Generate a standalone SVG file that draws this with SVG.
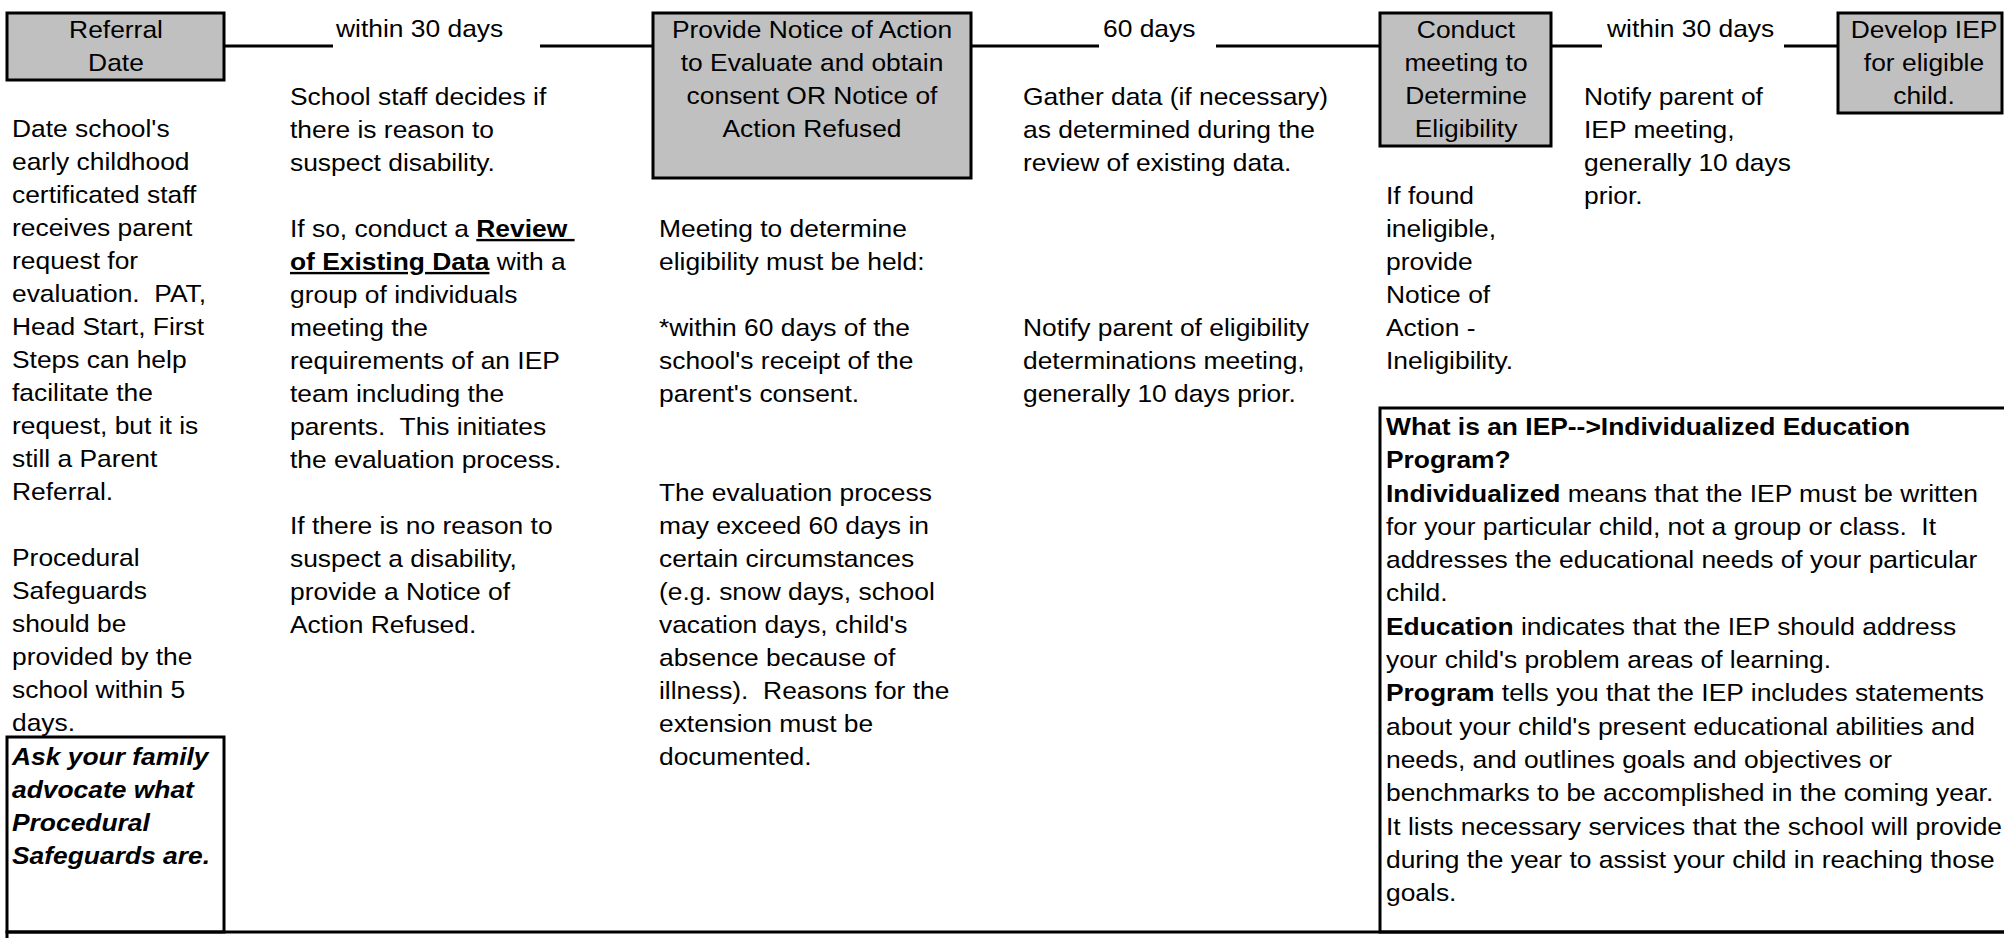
<svg xmlns="http://www.w3.org/2000/svg" width="2004" height="938" viewBox="0 0 2004 938">
<style>
  text { font-family: "Liberation Sans", Arial, sans-serif; font-size: 24px; fill: #000; white-space: pre; }
  .c { text-anchor: middle; }
  .b { font-weight: bold; }
  .bi { font-weight: bold; font-style: italic; }
  .u { text-decoration: underline; }
  .box { fill: #c0c0c0; stroke: #000; stroke-width: 3; }
  .frame { fill: none; stroke: #000; stroke-width: 3; }
  .conn line { stroke: #000; stroke-width: 3; }
</style>
<rect width="2004" height="938" fill="#fff"/>

<g id="connectors" class="conn">
  <line x1="224" y1="46" x2="333" y2="46"/>
  <line x1="540" y1="46" x2="653" y2="46"/>
  <line x1="971" y1="46" x2="1099" y2="46"/>
  <line x1="1216" y1="46" x2="1380" y2="46"/>
  <line x1="1551" y1="46" x2="1602" y2="46"/>
  <line x1="1784" y1="46" x2="1838" y2="46"/>
  <text transform="matrix(1.1 0 0 1 336 37)">within 30 days</text>
  <text transform="matrix(1.1 0 0 1 1103 37)">60 days</text>
  <text transform="matrix(1.1 0 0 1 1607 37)">within 30 days</text>
</g>

<g id="referral">
  <rect class="box" x="7" y="13" width="217" height="67"/>
  <text class="c" transform="matrix(1.1 0 0 1 116 38)"><tspan x="0" y="0">Referral</tspan><tspan x="0" y="33">Date</tspan></text>
</g>

<g id="provide-notice">
  <rect class="box" x="653" y="13" width="318" height="165"/>
  <text class="c" transform="matrix(1.1 0 0 1 812 38)"><tspan x="0" y="0">Provide Notice of Action</tspan><tspan x="0" y="33">to Evaluate and obtain</tspan><tspan x="0" y="66">consent OR Notice of</tspan><tspan x="0" y="99">Action Refused</tspan></text>
</g>

<g id="conduct-meeting">
  <rect class="box" x="1380" y="13" width="171" height="133"/>
  <text class="c" transform="matrix(1.1 0 0 1 1466 38)"><tspan x="0" y="0">Conduct</tspan><tspan x="0" y="33">meeting to</tspan><tspan x="0" y="66">Determine</tspan><tspan x="0" y="99">Eligibility</tspan></text>
</g>

<g id="develop-iep">
  <rect class="box" x="1838" y="13" width="164" height="100"/>
  <text class="c" transform="matrix(1.1 0 0 1 1924 38)"><tspan x="0" y="0">Develop IEP</tspan><tspan x="0" y="33">for eligible</tspan><tspan x="0" y="66">child.</tspan></text>
</g>

<g id="note-referral">
  <text transform="matrix(1.1 0 0 1 12 137)"><tspan x="0" y="0">Date school's</tspan><tspan x="0" y="33">early childhood</tspan><tspan x="0" y="66">certificated staff</tspan><tspan x="0" y="99">receives parent</tspan><tspan x="0" y="132">request for</tspan><tspan x="0" y="165">evaluation.  PAT,</tspan><tspan x="0" y="198">Head Start, First</tspan><tspan x="0" y="231">Steps can help</tspan><tspan x="0" y="264">facilitate the</tspan><tspan x="0" y="297">request, but it is</tspan><tspan x="0" y="330">still a Parent</tspan><tspan x="0" y="363">Referral.</tspan><tspan x="0" y="429">Procedural</tspan><tspan x="0" y="462">Safeguards</tspan><tspan x="0" y="495">should be</tspan><tspan x="0" y="528">provided by the</tspan><tspan x="0" y="561">school within 5</tspan><tspan x="0" y="594">days.</tspan></text>
</g>

<g id="note-safeguards">
  <rect class="frame" x="7" y="737" width="217" height="195"/>
  <text class="bi" transform="matrix(1.1 0 0 1 12 765)"><tspan x="0" y="0">Ask your family</tspan><tspan x="0" y="33">advocate what</tspan><tspan x="0" y="66">Procedural</tspan><tspan x="0" y="99">Safeguards are.</tspan></text>
</g>

<g id="note-review">
  <text transform="matrix(1.1 0 0 1 290 105)"><tspan x="0" y="0">School staff decides if</tspan><tspan x="0" y="33">there is reason to</tspan><tspan x="0" y="66">suspect disability.</tspan><tspan x="0" y="132">If so, conduct a </tspan><tspan class="b u">Review </tspan><tspan x="0" y="165" class="b u">of Existing Data</tspan><tspan> with a</tspan><tspan x="0" y="198">group of individuals</tspan><tspan x="0" y="231">meeting the</tspan><tspan x="0" y="264">requirements of an IEP</tspan><tspan x="0" y="297">team including the</tspan><tspan x="0" y="330">parents.  This initiates</tspan><tspan x="0" y="363">the evaluation process.</tspan><tspan x="0" y="429">If there is no reason to</tspan><tspan x="0" y="462">suspect a disability,</tspan><tspan x="0" y="495">provide a Notice of</tspan><tspan x="0" y="528">Action Refused.</tspan></text>
</g>

<g id="note-meeting">
  <text transform="matrix(1.1 0 0 1 659 237)"><tspan x="0" y="0">Meeting to determine</tspan><tspan x="0" y="33">eligibility must be held:</tspan><tspan x="0" y="99">*within 60 days of the</tspan><tspan x="0" y="132">school's receipt of the</tspan><tspan x="0" y="165">parent's consent.</tspan><tspan x="0" y="264">The evaluation process</tspan><tspan x="0" y="297">may exceed 60 days in</tspan><tspan x="0" y="330">certain circumstances</tspan><tspan x="0" y="363">(e.g. snow days, school</tspan><tspan x="0" y="396">vacation days, child's</tspan><tspan x="0" y="429">absence because of</tspan><tspan x="0" y="462">illness).  Reasons for the</tspan><tspan x="0" y="495">extension must be</tspan><tspan x="0" y="528">documented.</tspan></text>
</g>

<g id="note-gather">
  <text transform="matrix(1.1 0 0 1 1023 105)"><tspan x="0" y="0">Gather data (if necessary)</tspan><tspan x="0" y="33">as determined during the</tspan><tspan x="0" y="66">review of existing data.</tspan><tspan x="0" y="231">Notify parent of eligibility</tspan><tspan x="0" y="264">determinations meeting,</tspan><tspan x="0" y="297">generally 10 days prior.</tspan></text>
</g>

<g id="note-ineligible">
  <text transform="matrix(1.1 0 0 1 1386 204)"><tspan x="0" y="0">If found</tspan><tspan x="0" y="33">ineligible,</tspan><tspan x="0" y="66">provide</tspan><tspan x="0" y="99">Notice of</tspan><tspan x="0" y="132">Action -</tspan><tspan x="0" y="165">Ineligibility.</tspan></text>
</g>

<g id="note-notify-iep">
  <text transform="matrix(1.1 0 0 1 1584 105)"><tspan x="0" y="0">Notify parent of</tspan><tspan x="0" y="33">IEP meeting,</tspan><tspan x="0" y="66">generally 10 days</tspan><tspan x="0" y="99">prior.</tspan></text>
</g>

<g id="iep-info">
  <rect class="frame" x="1380" y="408" width="640" height="524"/>
  <text transform="matrix(1.1 0 0 1 1386 435)"><tspan x="0" y="0" class="b">What is an IEP--&gt;Individualized Education</tspan><tspan x="0" y="33.3" class="b">Program?</tspan><tspan x="0" y="66.6" class="b">Individualized</tspan><tspan> means that the IEP must be written</tspan><tspan x="0" y="99.9">for your particular child, not a group or class.  It</tspan><tspan x="0" y="133.2">addresses the educational needs of your particular</tspan><tspan x="0" y="166.5">child.</tspan><tspan x="0" y="199.8" class="b">Education</tspan><tspan> indicates that the IEP should address</tspan><tspan x="0" y="233.1">your child's problem areas of learning.</tspan><tspan x="0" y="266.4" class="b">Program</tspan><tspan> tells you that the IEP includes statements</tspan><tspan x="0" y="299.7">about your child's present educational abilities and</tspan><tspan x="0" y="333">needs, and outlines goals and objectives or</tspan><tspan x="0" y="366.3">benchmarks to be accomplished in the coming year.</tspan><tspan x="0" y="399.6">It lists necessary services that the school will provide</tspan><tspan x="0" y="432.9">during the year to assist your child in reaching those</tspan><tspan x="0" y="466.2">goals.</tspan></text>
</g>

<g id="bottom-box">
  <rect class="frame" x="7" y="932" width="2014" height="30"/>
</g>
</svg>
